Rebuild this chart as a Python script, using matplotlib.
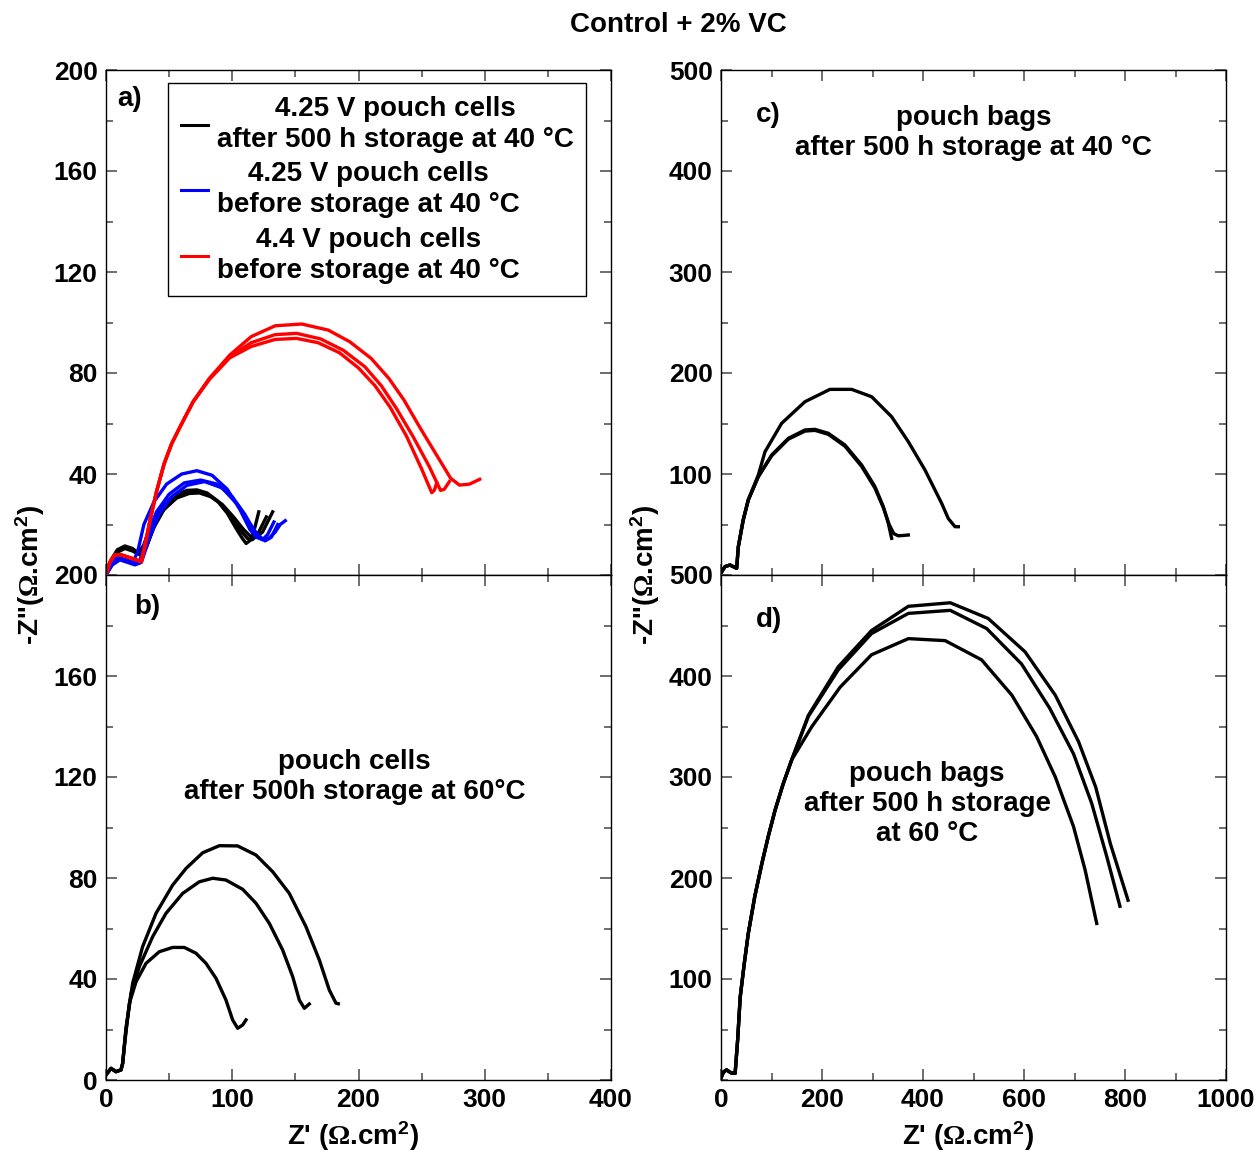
import matplotlib
matplotlib.use("Agg")
import matplotlib.pyplot as plt
from matplotlib.ticker import MultipleLocator

plt.rcParams["font.family"] = ["Liberation Sans", "DejaVu Sans"]
plt.rcParams["font.weight"] = "bold"
plt.rcParams["mathtext.fontset"] = "custom"
plt.rcParams["mathtext.rm"] = "Liberation Serif"
plt.rcParams["mathtext.bf"] = "Liberation Sans:bold"
plt.rcParams["mathtext.it"] = "Liberation Sans:bold"

# ---------------- panel a) : cells before / after storage at 40 °C ----------------
a_black1_x = [0, 4, 9, 15, 21, 26, 30, 36, 44, 54, 64, 72, 80, 88, 96, 103, 108, 111, 115, 118, 121]
a_black1_y = [0, 6, 10, 11.5, 10.5, 8.6, 12, 20, 27, 31.5, 33.5, 33.7, 32.5, 29.5, 24.5, 18.5, 14.5, 12.5, 14, 19, 25]
a_black2_x = [0, 4, 9, 15, 21, 27, 32, 38, 46, 56, 66, 74, 83, 92, 101, 109, 114, 119, 124, 128, 132]
a_black2_y = [0, 5.5, 9.5, 11, 10, 8.5, 11, 19, 26, 30.5, 32.3, 32.5, 31, 28, 23, 18, 15.5, 15, 17, 21, 25]
a_black3_x = [0, 4, 9, 15, 21, 27, 31, 37, 45, 55, 65, 73, 82, 90, 99, 106, 112, 116, 120, 124, 127]
a_black3_y = [0, 5, 9, 10.5, 9.5, 8, 10, 18, 25.5, 30.5, 32.5, 33, 31.5, 28.5, 23.5, 18, 14.5, 14, 16, 20, 23]

a_blue1_x = [0, 5, 10, 16, 21, 25, 30, 38, 48, 60, 72, 84, 96, 106, 114, 119, 124, 128, 133]
a_blue1_y = [0, 5, 7, 6, 5, 9, 20, 29, 36, 40, 41.3, 39.5, 34, 26, 18, 15, 14, 16, 21]
a_blue2_x = [0, 5, 10, 16, 22, 27, 32, 40, 50, 62, 75, 88, 100, 110, 118, 124, 129, 134, 138, 142]
a_blue2_y = [0, 4.5, 6.5, 5.5, 4.5, 6, 15, 25, 32, 36.5, 37.6, 36, 31, 24, 17, 14, 14.5, 17, 20, 21.5]
a_blue3_x = [0, 5, 11, 17, 23, 28, 34, 42, 52, 64, 78, 92, 104, 113, 120, 126, 131, 136]
a_blue3_y = [0, 4, 6, 5, 4, 5, 14, 24, 31, 35.5, 37, 34.5, 28, 21, 16, 13.5, 15, 20]

a_red_top_x = [0, 3, 7, 12, 18, 24, 28, 31, 35, 40, 46, 52, 59, 69, 82, 98, 115, 134, 155, 176, 193,
               210, 224, 236, 249, 265, 273, 280, 288, 296]
a_red_top_y = [0, 5, 8, 8, 7, 6, 5.3, 12, 22, 33, 44, 52, 59, 68.6, 77.9, 87.1, 94.4, 98.7, 99.4, 97,
               92.4, 85.8, 77.9, 69.3, 58.1, 44.9, 38.3, 35.6, 36, 37.9]
a_red_mid_x = [0, 3, 7, 12, 18, 24, 28, 31, 35, 40, 46, 52, 59, 69, 82, 98, 115, 134, 151, 170, 188,
               205, 218, 230, 243, 256, 265, 268, 272]
a_red_mid_y = [0, 5, 8, 8, 7, 6, 5.3, 12, 22, 33, 44, 52, 59, 68.6, 77.9, 86.5, 92, 95.2, 95.7, 93.5,
               89, 82.5, 75, 66, 55, 43, 33.5, 34, 37]
a_red_low_x = [0, 3, 7, 12, 18, 24, 28, 31, 35, 40, 46, 52, 59, 69, 82, 98, 115, 134, 151, 168, 185,
               200, 213, 225, 238, 250, 258, 260, 262]
a_red_low_y = [0, 5, 8, 8, 7, 6, 5.3, 12, 22, 33, 44, 52, 59, 68.6, 77.5, 86, 90.5, 93.3, 93.7, 92,
               88, 82, 75, 66.5, 55, 42, 32.6, 33.5, 36.5]

# ---------------- panel b) : cells after storage at 60 °C ----------------
b1_x = [0, 4, 7.9, 11.9, 13.2, 14.5, 18.5, 23.8, 31.7, 42.2, 52.8, 62, 71.3, 79.2, 87.1, 95,
        100.3, 104.3, 108.3, 110.9]
b1_y = [2, 4.6, 3.3, 4, 6.6, 13.2, 30.4, 38.9, 46.2, 50.8, 52.5, 52.5, 50.2, 46.2, 40.3, 31.7,
        23.8, 20.5, 21.8, 23.8]
b2_x = [0, 4, 7.9, 11.9, 13.2, 15.8, 19.8, 26.4, 37, 47.5, 60.7, 73.9, 84.5, 95, 108.3, 118.8,
        129.4, 139.9, 147.9, 153.1, 157.1, 161]
b2_y = [2, 4.6, 3.3, 4, 6.6, 19.8, 34.3, 44.9, 56.8, 66, 73.9, 78.5, 79.9, 79.2, 75.5, 70,
        62, 51.5, 40.9, 31.7, 28.4, 30.1]
b3_x = [0, 4, 7.9, 11.9, 13.2, 15.8, 21.1, 29, 39.6, 52.8, 63.4, 76.6, 89.8, 104.3, 118.8, 132,
        145.2, 158.4, 169, 176.9, 182.2, 184]
b3_y = [2, 4.6, 3.3, 4, 6.6, 20.5, 38.3, 52.8, 66, 77.2, 83.8, 90, 92.8, 92.7, 89.1, 82.5,
        73.9, 60.7, 47.5, 35.6, 30.4, 30.2]

# ---------------- panel c) : bags after storage at 40 °C ----------------
c1_x = [0, 7.9, 17.8, 31, 34.3, 44, 54, 73.9, 100.3, 133.3, 166.3, 186, 212.5, 245.5, 278.5,
        304.9, 321.4, 331.3, 337.9]
c1_y = [2, 8.3, 9.9, 6.6, 28, 54.5, 74.3, 97.4, 118.8, 135.3, 143.6, 144.2, 140.3, 128.7, 108.9,
        87.5, 67.7, 51.2, 36.3]
c2_x = [0, 7.9, 17.8, 31, 34.3, 44, 54, 73.9, 100.3, 133.3, 166.3, 186, 212.5, 245.5, 278.5,
        304.9, 322, 333, 342, 351, 362, 371]
c2_y = [2, 8.3, 9.9, 6.6, 28, 54.5, 74.3, 97.4, 118, 134.5, 142.5, 143.2, 139.3, 127.5, 107.5,
        86, 66, 50, 41, 38.8, 39.2, 39.6]
c3_x = [0, 7.9, 17.8, 31, 34.3, 44, 54, 73.9, 87.1, 120.1, 166.3, 215.8, 258.7, 298.3, 337.9,
        370.9, 403.9, 436.9, 450, 463.4, 470]
c3_y = [2, 8.3, 9.9, 6.6, 28, 54.5, 74.3, 99, 122, 150.2, 171.6, 183.8, 183.8, 176.5, 156.7,
        132, 104, 71, 56, 47.8, 47.8]

# ---------------- panel d) : bags after storage at 60 °C ----------------
d_start_x = [0, 5, 11, 20, 28, 33, 38, 46, 54, 67, 81, 94, 107, 123, 140]
d_start_y = [2, 8, 10, 7, 6.6, 40, 82, 115, 145, 182, 214.5, 242, 267, 293, 317]
d1_x = d_start_x + [180, 236, 298, 371, 444, 516, 576, 625, 662, 698, 721, 744]
d1_y = d_start_y + [350, 389, 421, 437, 435, 416, 381, 340, 300, 251, 208, 155]
d2_x = d_start_x + [173, 232, 298, 371, 454, 526, 595, 651, 698, 734, 764, 790]
d2_y = d_start_y + [360, 406, 442, 462, 465, 447, 412, 368, 323, 274, 221, 172]
d3_x = d_start_x + [173, 232, 298, 371, 454, 529, 602, 662, 708, 742, 771, 806]
d3_y = d_start_y + [361, 409, 445, 469, 472.5, 457, 424, 381, 335, 290, 234, 178]

legend_labels = ["4.25 V pouch cells\nafter 500 h storage at 40 °C",
                 "4.25 V pouch cells\nbefore storage at 40 °C",
                 "4.4 V pouch cells\nbefore storage at 40 °C"]

W, H = 1258, 1154
fig = plt.figure(figsize=(W / 100, H / 100), dpi=100)


def px_axes(x0, y0, x1, y1):
    return fig.add_axes([x0 / W, 1 - y1 / H, (x1 - x0) / W, (y1 - y0) / H])


ax_a = px_axes(106, 70, 611, 575)
ax_b = px_axes(106, 575, 611, 1080)
ax_c = px_axes(721, 70, 1226, 575)
ax_d = px_axes(721, 575, 1226, 1080)

LW = 2.4
for xs, ys in [(a_black1_x, a_black1_y), (a_black2_x, a_black2_y), (a_black3_x, a_black3_y)]:
    ax_a.plot(xs, ys, color="black", lw=LW)
for xs, ys in [(a_blue1_x, a_blue1_y), (a_blue2_x, a_blue2_y), (a_blue3_x, a_blue3_y)]:
    ax_a.plot(xs, ys, color="#0000ff", lw=LW)
for xs, ys in [(a_red_top_x, a_red_top_y), (a_red_mid_x, a_red_mid_y), (a_red_low_x, a_red_low_y)]:
    ax_a.plot(xs, ys, color="#ff0000", lw=LW)

for xs, ys in [(b1_x, b1_y), (b2_x, b2_y), (b3_x, b3_y)]:
    ax_b.plot(xs, ys, color="black", lw=LW)
for xs, ys in [(c1_x, c1_y), (c2_x, c2_y), (c3_x, c3_y)]:
    ax_c.plot(xs, ys, color="black", lw=LW)
for xs, ys in [(d1_x, d1_y), (d2_x, d2_y), (d3_x, d3_y)]:
    ax_d.plot(xs, ys, color="black", lw=LW)

FS = 20      # annotation / legend text
TFS = 19     # tick labels
LS = 1.2     # line spacing of multi-line texts
for ax in (ax_a, ax_b):
    ax.set_xlim(0, 400)
    ax.set_ylim(0, 200)
    ax.xaxis.set_major_locator(MultipleLocator(100))
    ax.xaxis.set_minor_locator(MultipleLocator(50))
    ax.yaxis.set_major_locator(MultipleLocator(40))
    ax.yaxis.set_minor_locator(MultipleLocator(20))
for ax in (ax_c, ax_d):
    ax.set_xlim(0, 1000)
    ax.set_ylim(0, 500)
    ax.xaxis.set_major_locator(MultipleLocator(200))
    ax.xaxis.set_minor_locator(MultipleLocator(100))
    ax.yaxis.set_major_locator(MultipleLocator(100))
    ax.yaxis.set_minor_locator(MultipleLocator(50))

ax_a.set_yticks([40, 80, 120, 160, 200])
ax_c.set_yticks([100, 200, 300, 400, 500])
ax_d.set_yticks([100, 200, 300, 400, 500])

for ax in (ax_a, ax_b, ax_c, ax_d):
    ax.tick_params(which="both", direction="in", top=True, right=True, color="#555555",
                   labelsize=TFS, width=1.2)
    ax.tick_params(which="major", length=8, pad=6)
    ax.tick_params(which="minor", length=5)
    for lab in ax.get_xticklabels() + ax.get_yticklabels():
        lab.set_fontweight("bold")
    for s in ax.spines.values():
        s.set_linewidth(1.0)

ax_a.tick_params(labelbottom=False)
ax_c.tick_params(labelbottom=False)

# legend
handles = [plt.Line2D([], [], color=c, lw=2.2) for c in ("black", "#0000ff", "#ff0000")]
leg = ax_a.legend(handles, legend_labels, loc="upper left", bbox_to_anchor=(0.123, 0.974),
                  borderaxespad=0, fancybox=False, edgecolor="black", framealpha=1,
                  prop={"weight": "bold", "size": FS}, handlelength=1.0, handletextpad=0.3,
                  labelspacing=0.3, borderpad=0.45)
leg.get_frame().set_linewidth(1.0)
for t in leg.get_texts():
    t.set_multialignment("center")
    t.set_linespacing(1.26)

# panel labels and annotations
ax_a.text(0.022, 0.943, "a)", transform=ax_a.transAxes, fontsize=FS, fontweight="bold", va="center")
ax_b.text(0.055, 0.937, "b)", transform=ax_b.transAxes, fontsize=FS, fontweight="bold", va="center")
ax_c.text(0.07, 0.91, "c)", transform=ax_c.transAxes, fontsize=FS, fontweight="bold", va="center")
ax_d.text(0.07, 0.91, "d)", transform=ax_d.transAxes, fontsize=FS, fontweight="bold", va="center")

ax_b.text(0.492, 0.600, "pouch cells\nafter 500h storage at 60°C", transform=ax_b.transAxes,
          fontsize=FS, fontweight="bold", ha="center", va="center", multialignment="center",
          linespacing=LS)
ax_c.text(0.5, 0.875, "pouch bags\nafter 500 h storage at 40 °C", transform=ax_c.transAxes,
          fontsize=FS, fontweight="bold", ha="center", va="center", multialignment="center",
          linespacing=LS)
ax_d.text(0.408, 0.547, "pouch bags\nafter 500 h storage\nat 60 °C", transform=ax_d.transAxes,
          fontsize=FS, fontweight="bold", ha="center", va="center", multialignment="center",
          linespacing=LS)

# axis titles
ylab = r"-Z''($\Omega$.cm$^{\mathbf{2}}$)"
xlab = r"Z' ($\Omega$.cm$^{\mathbf{2}}$)"
fig.text(30 / W, 1 - 575 / H, ylab, rotation=90, ha="center", va="center", fontsize=FS,
         fontweight="bold")
fig.text(645 / W, 1 - 575 / H, ylab, rotation=90, ha="center", va="center", fontsize=FS,
         fontweight="bold")
fig.text(353 / W, 1 - 1136 / H, xlab, ha="center", va="center", fontsize=FS, fontweight="bold")
fig.text(968 / W, 1 - 1136 / H, xlab, ha="center", va="center", fontsize=FS, fontweight="bold")

fig.text(678 / W, 1 - 25 / H, "Control + 2% VC", ha="center", va="center", fontsize=FS,
         fontweight="bold")

fig.savefig("out.png", dpi=100)
